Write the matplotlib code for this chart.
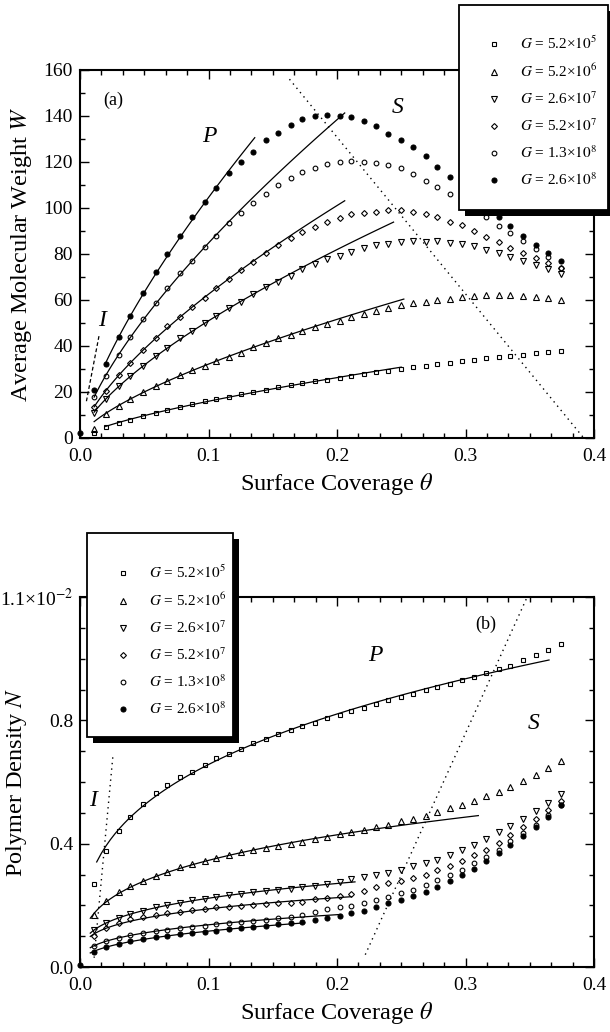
import numpy as np
import matplotlib
matplotlib.use('Agg')
import matplotlib.pyplot as plt
from matplotlib.ticker import MultipleLocator, FixedLocator, FormatStrFormatter, AutoMinorLocator
from matplotlib.lines import Line2D
from matplotlib.patches import Rectangle

plt.rcParams['font.family'] = ['Liberation Serif', 'DejaVu Serif']
plt.rcParams['mathtext.fontset'] = 'stix'

# ---------------- data ----------------
theta = [0.011, 0.020, 0.030, 0.039, 0.049, 0.059, 0.068, 0.078, 0.087, 0.097,
         0.106, 0.116, 0.125, 0.135, 0.145, 0.154, 0.164, 0.173, 0.183, 0.192,
         0.202, 0.211, 0.221, 0.230, 0.240, 0.250, 0.259, 0.269, 0.278, 0.288,
         0.297, 0.307, 0.316, 0.326, 0.335, 0.345, 0.355, 0.364, 0.374]

series_labels = [r'$G$ = 5.2×$10^{5}$', r'$G$ = 5.2×$10^{6}$', r'$G$ = 2.6×$10^{7}$',
                 r'$G$ = 5.2×$10^{7}$', r'$G$ = 1.3×$10^{8}$', r'$G$ = 2.6×$10^{8}$']

# panel (a): average molecular weight W
W_sq = [2, 5, 6.5, 8, 9.5, 11, 12.3, 13.5, 14.8, 16, 17, 18, 19, 20, 21, 22, 23, 23.8, 24.6,
        25.4, 26.2, 27, 27.8, 28.5, 29.3, 30, 30.7, 31.4, 32, 32.7, 33.3, 34, 34.6, 35.2, 35.8,
        36.3, 36.9, 37.4, 38]
W_up = [4, 10.5, 14, 17, 20, 22.5, 25, 27.5, 29.5, 31.5, 33.3, 35.2, 37, 39.5, 41.5, 43.5, 45,
        46.5, 48.3, 49.6, 51, 52.6, 54, 55, 56.5, 57.8, 58.7, 59.3, 60.2, 60.4, 61.3, 61.7, 62,
        62.2, 62.2, 61.9, 61.3, 60.9, 60.2]
W_down = [11, 17, 22.4, 27, 31.4, 35.6, 39.3, 43.5, 46.5, 49.8, 53, 56.5, 59, 62.6, 65.5, 68,
          70.6, 73.5, 75.7, 77.8, 79, 80.9, 82.6, 83.9, 84.3, 85.2, 85.6, 85.4, 85.6, 84.8, 84.3,
          83.5, 81.7, 80.4, 78.7, 77, 75.2, 73.5, 71.3]
W_dia = [13.5, 20.4, 27.2, 32.6, 38.2, 43.5, 48.5, 52.6, 57, 61, 65, 69.3, 73, 76.5, 80.4, 84,
         87, 89.6, 91.7, 93.9, 95.6, 97.4, 97.8, 98.3, 99, 99, 98.3, 97.5, 96, 94, 92.4, 90,
         87.5, 85.3, 82.8, 80.3, 78.2, 76, 73.8]
W_cir = [17.7, 27, 36, 44, 51.7, 58.5, 65, 71.7, 77, 83, 88, 93.4, 98, 102, 106, 110, 113,
         115.7, 117.4, 119, 120, 120.4, 120, 119.6, 118.7, 117.4, 114.8, 111.7, 109, 106, 103,
         99.5, 96, 92, 89, 85.5, 82, 78.7, 74]
W_fil = [21, 32, 44, 53, 63, 72, 80, 88, 96, 102.5, 108.7, 115, 120, 124.5, 129.5, 132.5, 136,
         138.5, 140, 140.4, 140.2, 139.5, 137.8, 135.5, 132, 129.5, 126.5, 122.5, 118, 113.5,
         109, 104.5, 100, 96, 92, 88, 84, 80.5, 77]
origin_a = [0.0, 2.0]          # (theta, W) of the point at the origin

# power-law fit ranges, panel (a)
fit_lo_a = [0.020, 0.011, 0.011, 0.011, 0.011, 0.020]   # line start
fit_hi_a = [0.250, 0.252, 0.244, 0.206, 0.206, 0.136]   # line end
fit_min_a = [0.020, 0.020, 0.011, 0.011, 0.011, 0.020]  # fitted points from
fit_use_a = [0.25, 0.20, 0.17, 0.15, 0.13, 0.13]        # fitted points up to

# guide lines panel (a)
I_line_a = ([0.005, 0.015], [16, 45])
S_line_a = ([0.163, 0.392], [156, 0])

# panel (b): polymer density N (units of 1e-2)
N_sq = [0.268, 0.375, 0.44, 0.488, 0.53, 0.563, 0.59, 0.615, 0.634, 0.656, 0.679, 0.692, 0.708,
        0.727, 0.741, 0.757, 0.77, 0.781, 0.792, 0.808, 0.818, 0.831, 0.841, 0.854, 0.867, 0.876,
        0.886, 0.899, 0.909, 0.918, 0.931, 0.941, 0.954, 0.967, 0.977, 0.996, 1.012, 1.028, 1.048]
N_up = [0.168, 0.213, 0.243, 0.262, 0.278, 0.294, 0.307, 0.323, 0.333, 0.343, 0.352, 0.362, 0.372,
        0.379, 0.386, 0.394, 0.4, 0.407, 0.414, 0.421, 0.43, 0.437, 0.445, 0.453, 0.462, 0.472,
        0.48, 0.491, 0.504, 0.515, 0.526, 0.539, 0.553, 0.569, 0.585, 0.604, 0.623, 0.646, 0.668]
N_down = [0.12, 0.142, 0.158, 0.171, 0.183, 0.193, 0.2, 0.208, 0.217, 0.222, 0.227, 0.233, 0.238,
          0.244, 0.247, 0.251, 0.254, 0.258, 0.263, 0.268, 0.276, 0.284, 0.292, 0.298, 0.305,
          0.316, 0.327, 0.337, 0.348, 0.364, 0.378, 0.397, 0.416, 0.438, 0.457, 0.481, 0.506,
          0.533, 0.562]
N_dia = [0.1, 0.125, 0.142, 0.155, 0.163, 0.168, 0.174, 0.179, 0.184, 0.189, 0.193, 0.195, 0.198,
         0.2, 0.204, 0.206, 0.209, 0.212, 0.219, 0.225, 0.23, 0.236, 0.247, 0.26, 0.271, 0.279,
         0.289, 0.298, 0.314, 0.327, 0.344, 0.362, 0.381, 0.402, 0.427, 0.454, 0.481, 0.51, 0.54]
N_cir = [0.068, 0.085, 0.095, 0.103, 0.11, 0.116, 0.121, 0.126, 0.13, 0.134, 0.138, 0.142, 0.146,
         0.15, 0.154, 0.158, 0.163, 0.168, 0.179, 0.187, 0.193, 0.198, 0.208, 0.217, 0.227, 0.24,
         0.251, 0.265, 0.281, 0.298, 0.316, 0.337, 0.357, 0.381, 0.408, 0.436, 0.462, 0.494, 0.527]
N_fil = [0.05, 0.065, 0.075, 0.083, 0.09, 0.096, 0.101, 0.106, 0.11, 0.114, 0.118, 0.122, 0.126,
         0.13, 0.134, 0.138, 0.142, 0.147, 0.153, 0.159, 0.166, 0.174, 0.182, 0.193, 0.206, 0.217,
         0.23, 0.244, 0.26, 0.279, 0.298, 0.319, 0.343, 0.37, 0.395, 0.424, 0.454, 0.486, 0.524]
origin_b = [0.0, 0.005]

fit_lo_b = [0.013, 0.008, 0.008, 0.008, 0.008, 0.008]
fit_hi_b = [0.365, 0.310, 0.214, 0.211, 0.203, 0.175]
fit_min_b = [0.015, 0.0, 0.0, 0.0, 0.0, 0.0]
fit_use_b = [0.30, 0.22, 0.18, 0.18, 0.17, 0.15]

I_line_b = ([0.0255, 0.011], [0.68, 0.03])
S_line_b = ([0.222, 0.348], [0.04, 1.2])

yticks_b = [0.0, 0.4, 0.8, 1.2]
yticklabels_b = ['0.0', '0.4', '0.8', r'1.1×10$^{-2}$']

# ---------------- style ----------------
markers = ['s', '^', 'v', 'D', 'o', 'o']
msizes = [3.2, 4.2, 4.2, 3.0, 3.4, 3.6]
filled = [False, False, False, False, False, True]

W_all = [W_sq, W_up, W_down, W_dia, W_cir, W_fil]
N_all = [N_sq, N_up, N_down, N_dia, N_cir, N_fil]

W_px, H_px = 610, 1032
fig = plt.figure(figsize=(W_px / 100, H_px / 100), dpi=100)
axA = fig.add_axes([80 / W_px, 1 - 438 / H_px, 514 / W_px, 368 / H_px])
axB = fig.add_axes([80 / W_px, 1 - 967 / H_px, 514 / W_px, 370 / H_px])


def mk(i):
    return dict(ls='none', marker=markers[i], ms=msizes[i], mec='k', mew=0.8,
                mfc='k' if filled[i] else 'none')


def power_fit(x, y, xmin, xmax):
    x = np.asarray(x, float)
    y = np.asarray(y, float)
    sel = (x >= xmin) & (x <= xmax) & np.isfinite(y) & (y > 0)
    b, la = np.polyfit(np.log(x[sel]), np.log(y[sel]), 1)
    return lambda t: np.exp(la) * np.asarray(t) ** b


th = np.asarray(theta)
for i, W in enumerate(W_all):
    axA.plot(th, W, **mk(i), zorder=3)
    f = power_fit(th, W, fit_min_a[i], fit_use_a[i])
    tt = np.linspace(fit_lo_a[i], fit_hi_a[i], 100)
    axA.plot(tt, f(tt), color='k', lw=0.9, zorder=2)
axA.plot([origin_a[0]], [origin_a[1]], **mk(5), clip_on=False, zorder=4)
axA.plot(*I_line_a, color='k', ls=(0, (3, 2)), lw=0.9)
axA.plot(*S_line_a, color='k', ls=(0, (1, 3)), lw=1.0)

for i, N in enumerate(N_all):
    axB.plot(th, N, **mk(i), zorder=3)
    f = power_fit(th, N, max(fit_lo_b[i], fit_min_b[i]), fit_use_b[i])
    tt = np.linspace(fit_lo_b[i], fit_hi_b[i], 100)
    axB.plot(tt, f(tt), color='k', lw=0.9, zorder=2)
axB.plot([origin_b[0]], [origin_b[1]], **mk(5), clip_on=False, zorder=4)
axB.plot(*I_line_b, color='k', ls=(0, (1, 3)), lw=1.0)
axB.plot(*S_line_b, color='k', ls=(0, (1, 3)), lw=1.0)

tick_fs = 14
for ax in (axA, axB):
    ax.set_xlim(0, 0.4)
    ax.xaxis.set_major_locator(MultipleLocator(0.1))
    ax.xaxis.set_minor_locator(AutoMinorLocator(6))
    ax.xaxis.set_major_formatter(FormatStrFormatter('%.1f'))
    ax.tick_params(which='both', direction='in', top=True, right=True,
                   labelsize=tick_fs, width=1.0)
    ax.tick_params(which='major', length=6.5, pad=5)
    ax.tick_params(axis='x', which='major', pad=7)
    ax.tick_params(which='minor', length=3.5)
    for s in ax.spines.values():
        s.set_linewidth(1.5)
    ax.set_xlabel(r'Surface Coverage $\theta$', fontsize=17.5)
    ax.xaxis.set_label_coords(0.5, -0.09)

axA.set_ylim(0, 160)
axA.yaxis.set_major_locator(MultipleLocator(20))
axA.yaxis.set_minor_locator(MultipleLocator(10))
axA.set_ylabel(r'Average Molecular Weight $W$', fontsize=17.5)
axA.yaxis.set_label_coords(-0.09, 0.5)

axB.set_ylim(0, 1.2)
axB.yaxis.set_major_locator(FixedLocator(yticks_b))
axB.set_yticklabels(yticklabels_b)
axB.yaxis.set_minor_locator(MultipleLocator(0.1))
axB.set_ylabel(r'Polymer Density $N$', fontsize=17.5)
axB.yaxis.set_label_coords(-0.10, 0.5)

# annotations
lab_fs = 17
axA.text(0.101, 131, 'P', fontsize=lab_fs, style='italic', ha='center', va='center')
axA.text(0.247, 143.5, 'S', fontsize=lab_fs, style='italic', ha='center', va='center')
axA.text(0.017, 51, 'I', fontsize=lab_fs, style='italic', ha='center', va='center')
axA.text(0.026, 147, '(a)', fontsize=13, ha='center', va='center')
axB.text(0.23, 1.01, 'P', fontsize=lab_fs, style='italic', ha='center', va='center')
axB.text(0.353, 0.79, 'S', fontsize=lab_fs, style='italic', ha='center', va='center')
axB.text(0.010, 0.54, 'I', fontsize=lab_fs, style='italic', ha='center', va='center')
axB.text(0.316, 1.11, '(b)', fontsize=13, ha='center', va='center')

# legends: framed box with solid drop shadow, entries as a frameless figure legend
handles = [Line2D([], [], **mk(i)) for i in range(6)]


def legend_box(left, top, width, height, marker_x, rows_center):
    sh = Rectangle(((left + 6) / W_px, 1 - (top + height + 6) / H_px), width / W_px,
                   height / H_px, transform=fig.transFigure, facecolor='k',
                   edgecolor='none', zorder=2)
    bx = Rectangle((left / W_px, 1 - (top + height) / H_px), width / W_px, height / H_px,
                   transform=fig.transFigure, facecolor='w', edgecolor='k', lw=1.3,
                   zorder=2.1)
    fig.add_artist(sh)
    fig.add_artist(bx)
    hl = 1.6
    x0 = marker_x - hl * 11 * 100 / 72 / 2
    fig.legend(handles, series_labels, loc='center left',
               bbox_to_anchor=(x0 / W_px, 1 - rows_center / H_px),
               frameon=False, borderpad=0, borderaxespad=0, fontsize=11,
               handlelength=hl, handletextpad=0.9, labelspacing=0.69)


legend_box(459, 5, 149, 205, 494, 111.5)
legend_box(87, 533, 146, 204, 123, 640.5)

fig.savefig('out.png', dpi=100)
